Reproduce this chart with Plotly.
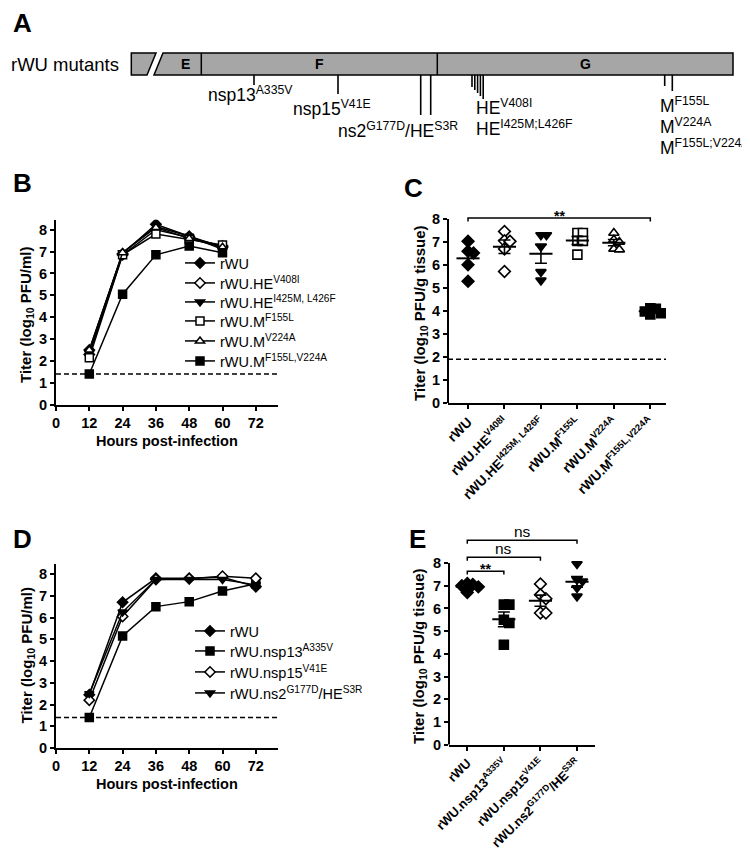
import numpy as np
import plotly.graph_objects as go

FONT = "Liberation Sans, Arial, Helvetica, sans-serif"
W, H = 750, 849

# ======================= DATA =======================
# Panel A: genome map (map units along the drawn genome)
map_start = 123.3
map_cut1 = (148.0, 139.0)      # right edge of first piece (top, bottom)
map_cut2 = (155.0, 146.0)      # left edge of second piece (top, bottom)
map_E_end = 193.3
map_F_end = 429.3
map_end = 725.0
map_segment_names = ["E", "F", "G"]
map_site_x = [246.0, 330.0, 412.7, 422.7, 464.0, 466.8, 469.6, 472.4, 475.2, 656.7, 664.3]
map_site_len = [10, 19, 40, 40, 12, 15, 18, 21, 24, 11, 16]
map_labels = ["nsp13<sup>A335V</sup>", "nsp15<sup>V41E</sup>",
              "ns2<sup>G177D</sup>/HE<sup>S3R</sup>",
              "HE<sup>V408I</sup>", "HE<sup>I425M;L426F</sup>",
              "M<sup>F155L</sup>", "M<sup>V224A</sup>", "M<sup>F155L;V224A</sup>"]
map_label_x = [198.0, 283.3, 328.3, 466.0, 466.0, 650.0, 650.0, 650.0]
map_label_y = [86, 100, 122, 99, 120, 97, 118, 139]

# Panel B: growth kinetics (log10 PFU/ml)
B_hours = [12, 24, 36, 48, 60]
B_names = ["rWU", "rWU.HE<sup>V408I</sup>", "rWU.HE<sup>I425M, L426F</sup>",
           "rWU.M<sup>F155L</sup>", "rWU.M<sup>V224A</sup>", "rWU.M<sup>F155L,V224A</sup>"]
B_rWU = [2.50, 6.90, 8.25, 7.70, 7.20]
B_HE_V408I = [2.30, 6.85, 8.00, 7.65, 7.25]
B_HE_I425M_L426F = [2.40, 6.95, 8.15, 7.70, 7.10]
B_M_F155L = [2.15, 6.85, 7.80, 7.55, 7.30]
B_M_V224A = [2.50, 6.95, 8.10, 7.60, 7.20]
B_M_F155L_V224A = [1.40, 5.05, 6.85, 7.25, 6.95]
B_LOD = 1.4

# Panel C: tissue titers (log10 PFU/g tissue)
C_categories = ["rWU", "rWU.HE<sup>V408I</sup>", "rWU.HE<sup>I425M, L426F</sup>",
                "rWU.M<sup>F155L</sup>", "rWU.M<sup>V224A</sup>", "rWU.M<sup>F155L,V224A</sup>"]
C_rWU = [7.03, 6.60, 6.52, 6.01, 5.29]
C_HE_V408I = [7.46, 7.05, 7.03, 6.70, 5.72]
C_HE_I425M_L426F = [7.30, 7.30, 6.80, 5.70, 5.33]
C_M_F155L = [7.39, 7.39, 7.05, 7.05, 6.45]
C_M_V224A = [7.39, 7.10, 7.00, 6.70, 6.67]
C_M_F155L_V224A = [4.12, 4.10, 3.98, 3.90, 3.85]
C_LOD = 1.9

# Panel D: growth kinetics (log10 PFU/ml)
D_hours = [12, 24, 36, 48, 60, 72]
D_names = ["rWU", "rWU.nsp13<sup>A335V</sup>", "rWU.nsp15<sup>V41E</sup>",
           "rWU.ns2<sup>G177D</sup>/HE<sup>S3R</sup>"]
D_rWU = [2.45, 6.70, 7.80, 7.80, 7.85, 7.42]
D_nsp13 = [1.40, 5.15, 6.50, 6.73, 7.22, 7.55]
D_nsp15 = [2.20, 6.05, 7.75, 7.78, 7.90, 7.80]
D_ns2 = [2.50, 6.25, 7.75, 7.75, 7.75, 7.50]
D_LOD = 1.4

# Panel E: tissue titers (log10 PFU/g tissue)
E_categories = ["rWU", "rWU.nsp13<sup>A335V</sup>", "rWU.nsp15<sup>V41E</sup>",
                "rWU.ns2<sup>G177D</sup>/HE<sup>S3R</sup>"]
E_rWU = [7.10, 7.05, 7.00, 6.95, 6.70]
E_nsp13 = [6.17, 6.17, 5.50, 5.36, 4.40]
E_nsp15 = [7.08, 6.60, 6.43, 5.80, 5.80]
E_ns2 = [7.96, 7.27, 7.20, 6.90, 6.53]

# ======================= LAYOUT HELPERS =======================
def xp(px):
    return px / W

def yp(py):
    return 1 - py / H

geom = {
    "B": dict(x0=48, x1=270, yzero=396.7, ppu=21.875, xr=[0, 80], yr=[0, 8.45]),
    "C": dict(x0=440, x1=658, yzero=395.0, ppu=23.0, xr=[-0.549, 5.43], yr=[0, 8.5]),
    "D": dict(x0=48, x1=270, yzero=740.0, ppu=21.75, xr=[0, 80], yr=[0, 8.46]),
    "E": dict(x0=441, x1=586.7, yzero=736.7, ppu=22.71, xr=[-0.5, 3.484], yr=[0, 9.4]),
}

def dom_x(g):
    return [xp(g["x0"]), xp(g["x1"])]

def dom_y(g):
    top = g["yzero"] - g["ppu"] * (g["yr"][1] - g["yr"][0])
    return [yp(g["yzero"]), yp(top)]

def axis(domain, rng, tickvals, anchor, showline=True, ticktext=None, angle=None, fsize=14.5):
    d = dict(domain=domain, range=rng, tickmode="array", tickvals=tickvals,
             ticks="outside", ticklen=4, tickwidth=2, tickcolor="black",
             showline=showline, linewidth=2, linecolor="black", showgrid=False,
             zeroline=False, anchor=anchor, fixedrange=True, automargin=False,
             tickfont=dict(family=FONT, size=fsize, color="black", weight="bold"))
    if ticktext is not None:
        d["ticktext"] = ticktext
    if angle is not None:
        d["tickangle"] = angle
    return d

def swarm(vals, size_px, ypx, xpx):
    order = sorted(range(len(vals)), key=lambda i: -vals[i])
    placed, offs = [], [0.0] * len(vals)
    for i in order:
        y = vals[i] * ypx
        for k in [0, 1, -1, 2, -2, 3, -3]:
            dx = k * size_px
            if all(abs(dx - a) >= size_px - 0.01 or abs(y - b) >= size_px - 0.01 for a, b in placed):
                break
        placed.append((dx, y))
        offs[i] = dx / xpx
    return offs

fig = go.Figure()
legend_layouts = {}
legend_font = dict(family=FONT, size=14.5, color="black")
legend_counter = [0]

def new_legend(left_px, row_px):
    legend_counter[0] += 1
    n = legend_counter[0]
    key = "legend" if n == 1 else f"legend{n}"
    legend_layouts[key] = dict(x=xp(left_px), y=yp(row_px), xanchor="left", yanchor="middle",
                               font=legend_font, bgcolor="rgba(0,0,0,0)", itemwidth=30,
                               borderwidth=0, tracegroupgap=0)
    return key

def line_marker(sym, filled):
    return dict(symbol=sym, size=8, color="black" if filled else "white",
                line=dict(color="black", width=1.5))

# ---------- Panel B ----------
B_series = [B_rWU, B_HE_V408I, B_HE_I425M_L426F, B_M_F155L, B_M_V224A, B_M_F155L_V224A]
B_styles = [("diamond", True), ("diamond", False), ("triangle-down", True),
            ("square", False), ("triangle-up", False), ("square", True)]
B_legend_rows = [255, 275, 294, 313, 333, 353]
fig.add_trace(go.Scatter(x=geom["B"]["xr"], y=[B_LOD, B_LOD], mode="lines", xaxis="x", yaxis="y",
                         line=dict(color="black", width=1.5, dash="5px,3px"), showlegend=False))
for name, vals, (sym, filled), row in zip(B_names, B_series, B_styles, B_legend_rows):
    fig.add_trace(go.Scatter(x=B_hours, y=vals, mode="lines+markers", name=name,
                             xaxis="x", yaxis="y", legend=new_legend(172, row),
                             line=dict(color="black", width=1.5),
                             marker=line_marker(sym, filled)))

# ---------- Panel D ----------
D_series = [D_rWU, D_nsp13, D_nsp15, D_ns2]
D_styles = [("diamond", True), ("square", True), ("diamond", False), ("triangle-down", True)]
D_legend_rows = [623, 643, 664, 685]
fig.add_trace(go.Scatter(x=geom["D"]["xr"], y=[D_LOD, D_LOD], mode="lines", xaxis="x3", yaxis="y3",
                         line=dict(color="black", width=1.5, dash="5px,3px"), showlegend=False))
for name, vals, (sym, filled), row in zip(D_names, D_series, D_styles, D_legend_rows):
    fig.add_trace(go.Scatter(x=D_hours, y=vals, mode="lines+markers", name=name,
                             xaxis="x3", yaxis="y3", legend=new_legend(182, row),
                             line=dict(color="black", width=1.5),
                             marker=line_marker(sym, filled)))

# ---------- dot plots (C, E) ----------
def dot_panel(groups, styles, xa, ya, g, lod=None):
    xpx = (g["x1"] - g["x0"]) / (g["xr"][1] - g["xr"][0])
    if lod is not None:
        fig.add_trace(go.Scatter(x=g["xr"], y=[lod, lod], mode="lines", xaxis=xa, yaxis=ya,
                                 line=dict(color="black", width=1.5, dash="5px,3px"),
                                 showlegend=False))
    means, sems = [], []
    for i, (vals, (sym, filled)) in enumerate(zip(groups, styles)):
        offs = swarm(vals, 5.5, g["ppu"], xpx)
        fig.add_trace(go.Scatter(x=[i + o for o in offs], y=vals, mode="markers",
                                 xaxis=xa, yaxis=ya, showlegend=False,
                                 marker=dict(symbol=sym, size=9,
                                             color="black" if filled else "white",
                                             line=dict(color="black", width=1.6))))
        v = np.array(vals)
        means.append(v.mean())
        sems.append(v.std(ddof=1) / np.sqrt(len(v)))
    fig.add_trace(go.Scatter(x=list(range(len(groups))), y=means, mode="markers",
                             xaxis=xa, yaxis=ya, showlegend=False,
                             marker=dict(symbol="line-ew", size=16.5, color="black",
                                         line=dict(color="black", width=2)),
                             error_y=dict(type="data", array=sems, width=6,
                                          thickness=1.6, color="black")))

C_groups = [C_rWU, C_HE_V408I, C_HE_I425M_L426F, C_M_F155L, C_M_V224A, C_M_F155L_V224A]
dot_panel(C_groups, B_styles, "x2", "y2", geom["C"], lod=C_LOD)
E_groups = [E_rWU, E_nsp13, E_nsp15, E_ns2]
dot_panel(E_groups, D_styles, "x4", "y4", geom["E"])

# ======================= SHAPES =======================
shapes = []
gray = "#a6a6a6"
bar_top, bar_bot = 45, 67
shapes.append(dict(type="path", xref="x5", yref="y5",
                   path=f"M{map_start},{bar_top} L{map_cut1[0]},{bar_top} L{map_cut1[1]},{bar_bot} L{map_start},{bar_bot} Z",
                   fillcolor=gray, line=dict(color="black", width=1.5)))
shapes.append(dict(type="path", xref="x5", yref="y5",
                   path=f"M{map_cut2[0]},{bar_top} L{map_end},{bar_top} L{map_end},{bar_bot} L{map_cut2[1]},{bar_bot} Z",
                   fillcolor=gray, line=dict(color="black", width=1.5)))
for bx in [map_E_end, map_F_end]:
    shapes.append(dict(type="line", xref="x5", yref="y5", x0=bx, x1=bx, y0=bar_top, y1=bar_bot,
                       line=dict(color="black", width=1.5)))
for sx, sl in zip(map_site_x, map_site_len):
    shapes.append(dict(type="line", xref="x5", yref="y5", x0=sx, x1=sx, y0=bar_bot, y1=bar_bot + sl,
                       line=dict(color="black", width=1.6)))

for xa, ya in [("x2", "y2"), ("x4", "y4")]:
    shapes.append(dict(type="line", xref=f"{xa} domain", yref=ya, x0=0, x1=0, y0=0, y1=8,
                       line=dict(color="black", width=2)))

C_brackets = [(0, 5, 8.04, "**")]
E_brackets = [(0, 1, 7.64, "**"), (0, 2, 8.25, "ns"), (0, 3, 9.0, "ns")]
annotations = []
for brs, xa, ya in [(C_brackets, "x2", "y2"), (E_brackets, "x4", "y4")]:
    for a, b, h, txt in brs:
        t = 0.15
        shapes.append(dict(type="path", xref=xa, yref=ya,
                           path=f"M{a},{h - t} L{a},{h} L{b},{h} L{b},{h - t}",
                           line=dict(color="black", width=1.5)))
        if txt == "**":
            annotations.append(dict(text="**", x=(a + b) / 2, y=h + 0.1, xref=xa, yref=ya,
                                    showarrow=False, yanchor="middle",
                                    font=dict(family=FONT, size=14, color="black", weight="bold")))
        else:
            annotations.append(dict(text=txt, x=(a + b) / 2, y=h + 0.05, xref=xa, yref=ya,
                                    showarrow=False, yanchor="bottom", yshift=-3,
                                    font=dict(family=FONT, size=15.5, color="black")))

# ======================= ANNOTATIONS =======================
def ann(text, px, py, size, bold=False, xanchor="center", yanchor="middle", angle=0):
    annotations.append(dict(text=text, x=xp(px), y=yp(py), xref="paper", yref="paper",
                            showarrow=False, xanchor=xanchor, yanchor=yanchor, textangle=angle,
                            font=dict(family=FONT, size=size, color="black",
                                      weight="bold" if bold else "normal")))

for letter, px, py in [("A", 3, 15), ("B", 3, 175), ("C", 394, 180), ("D", 3, 531), ("E", 399, 531)]:
    ann(letter, px, py, 26, bold=True, xanchor="left")

ann("rWU mutants", 1, 56, 18.5, xanchor="left")
for name, cx in zip(map_segment_names, [(map_cut2[0] + map_E_end) / 2 + 3,
                                         (map_E_end + map_F_end) / 2,
                                         (map_F_end + map_end) / 2]):
    annotations.append(dict(text=name, x=cx, y=56, xref="x5", yref="y5", showarrow=False,
                            font=dict(family=FONT, size=14, color="black", weight="bold")))
for txt, lx, ly in zip(map_labels, map_label_x, map_label_y):
    annotations.append(dict(text=txt, x=lx, y=ly, xref="x5", yref="y5", showarrow=False,
                            xanchor="left", yanchor="middle",
                            font=dict(family=FONT, size=17.5, color="black")))

ann("Titer (log<sub>10</sub> PFU/ml)", 18.5, 307.5, 15, bold=True, angle=-90)
ann("Titer (log<sub>10</sub> PFU/ml)", 18.5, 648, 15, bold=True, angle=-90)
ann("Titer (log<sub>10</sub> PFU/g tissue)", 412, 305, 15, bold=True, angle=-90)
ann("Titer (log<sub>10</sub> PFU/g tissue)", 411, 648, 15, bold=True, angle=-90)
ann("Hours post-infection", 159, 433, 14.5, bold=True)
ann("Hours post-infection", 159, 776, 14.5, bold=True)

# ======================= AXES =======================
gB, gC, gD, gE = geom["B"], geom["C"], geom["D"], geom["E"]
hour_ticks = [0, 12, 24, 36, 48, 60, 72]
lvl = list(range(0, 9))

fig.update_layout(
    template="none",
    width=W, height=H, autosize=False,
    margin=dict(l=0, r=0, t=0, b=0, pad=0, autoexpand=False),
    paper_bgcolor="white", plot_bgcolor="white",
    font=dict(family=FONT, color="black"),
    xaxis=axis(dom_x(gB), gB["xr"], hour_ticks, "y"),
    yaxis=axis(dom_y(gB), gB["yr"], lvl, "x"),
    xaxis2=axis(dom_x(gC), gC["xr"], list(range(6)), "y2", ticktext=C_categories, angle=-45, fsize=13.5),
    yaxis2=axis(dom_y(gC), gC["yr"], lvl, "x2", showline=False),
    xaxis3=axis(dom_x(gD), gD["xr"], hour_ticks, "y3"),
    yaxis3=axis(dom_y(gD), gD["yr"], lvl, "x3"),
    xaxis4=axis(dom_x(gE), gE["xr"], list(range(4)), "y4", ticktext=E_categories, angle=-45, fsize=12.8),
    yaxis4=axis(dom_y(gE), gE["yr"], lvl, "x4", showline=False),
    xaxis5=dict(domain=[0, 1], range=[0, W], visible=False, anchor="y5", fixedrange=True,
                automargin=False),
    yaxis5=dict(domain=[yp(160), 1], range=[160, 0], visible=False, anchor="x5", fixedrange=True,
                automargin=False),
    shapes=shapes,
    annotations=annotations,
    showlegend=True,
    **legend_layouts,
)

fig.write_html("out.html")
